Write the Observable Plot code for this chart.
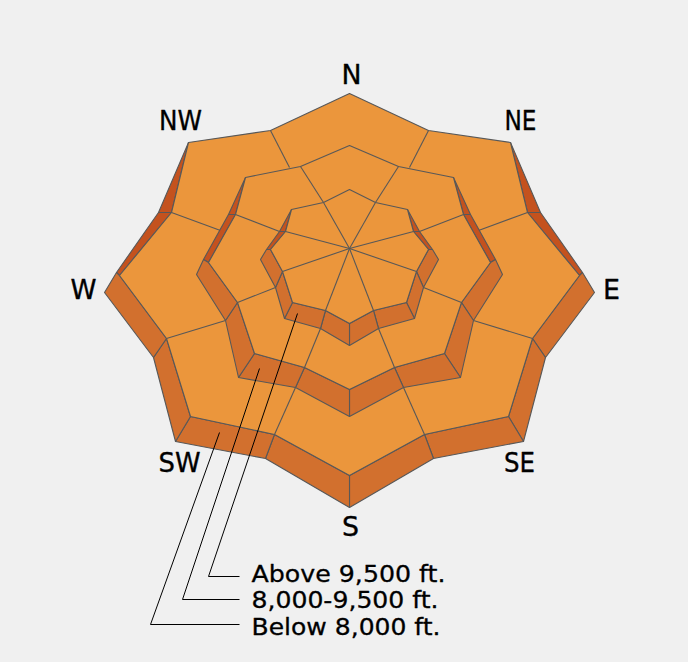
<!DOCTYPE html>
<html>
<head>
<meta charset="utf-8">
<script src="https://cdn.jsdelivr.net/npm/d3@7"></script>
<script src="https://cdn.jsdelivr.net/npm/@observablehq/plot@0.6"></script>
<style>
html,body{margin:0;padding:0;background:#f0f0f0;}
svg{display:block;}
</style>
</head>
<body>
<div id="chart"></div>
<script>
// Vertex order, clockwise from north
const bearings = ["N","NNE","NE","ENE","E","ESE","SE","SSE","S","SSW","SW","WSW","W","WNW","NW","NNW"];

// Below 8,000 ft. ring
const lowTopEast  = [0,79,161,178,230,183,159,75,0,-75,-159,-183,-230,-178,-161,-79];
const lowTopNorth = [155,118,106,36,-27,-90,-168,-186,-227,-186,-168,-90,-27,36,106,118];
const lowBaseEast  = [0,79,161,191,245,196,174,84,0,-84,-174,-196,-245,-191,-161,-79];
const lowBaseNorth = [155,118,106,36,-44,-109,-193,-210,-259,-210,-193,-109,-44,36,106,118];
const lowShoulderEast = 233, lowShoulderNorth = -24;

// 8,000-9,500 ft. ring
const midTopEast  = [0,49,104,114,141,112,95,45,0,-45,-95,-112,-141,-114,-104,-49];
const midTopNorth = [103,82,71,34,-14,-54,-105,-119,-141,-119,-105,-54,-14,34,71,82];
const midBaseEast  = [0,49,104,121,153,124,111,54,0,-54,-111,-124,-153,-121,-104,-49];
const midBaseNorth = [103,82,71,34,-26,-72,-129,-139,-168,-139,-129,-72,-26,34,71,82];
const midShoulderEast = 146, midShoulderNorth = -11;

// Above 9,500 ft. ring
const highTopEast  = [0,26,58,64,79,67,57,24,0,-24,-57,-67,-79,-64,-58,-26];
const highTopNorth = [59,46,39,17,-1,-23,-54,-62,-75,-62,-54,-23,-1,17,39,46];
const highBaseEast  = [0,26,58,70,89,74,65,29,0,-29,-65,-74,-89,-70,-58,-26];
const highBaseNorth = [59,46,39,17,-11,-39,-70,-80,-97,-80,-70,-39,-11,17,39,46];
const highShoulderEast = 83, highShoulderNorth = -1;

// Sector divider vertices and where the low-ring dividers meet the mid ring
const dividers = [1,3,5,7,9,11,13,15];
const lowDividerEndEast  = [60,129,124,54,-54,-124,-129,-60];
const lowDividerEndNorth = [81,18,-72,-139,-139,-72,18,81];

// Wall faces, by starting vertex
const shadedWalls = [2,3,12,13];
const litWalls = [4,5,6,7,8,9,10,11];

// Compass labels
const compass = ["N","NE","E","SE","S","SW","W","NW"];
const compassEast  = [2,171,262,170,1,-170,-266,-169];
const compassNorth = [173,127,-42,-215,-279,-215,-42,127];
const compassWidths = [20,32,17,31,17,42,26,43];

// Legend
const legendLabels = ["Above 9,500 ft.","8,000-9,500 ft.","Below 8,000 ft."];
const legendNorth = [-326,-352,-379];
const legendTextEast = -98;
const legendWidths = [194,187,189];
const leaderElbowEast = [-141,-167,-199];
const leaderElbowNorth = [-328,-351,-376];
const leaderTipEast = [-52,-90,-130];
const leaderTipNorth = [-65,-120,-184];
const leaderEndEast = -110;

const TOP = "#eb963c", WALL = "#d2702e", DARK = "#c4521e", EDGE = "#585858";
const EAST = 4, WEST = 12;
const all = d3.range(bearings.length);

function wallMarks(topE, topN, baseE, baseN, shE, shN) {
  const shoulder = (i) => i === EAST ? {e:shE, n:shN} : {e:-shE, n:shN};
  const isShoulder = (i) => i === EAST || i === WEST;
  const face = (list, lit) => list.flatMap(i => {
    const j = (i + 1) % bearings.length;
    const pts = [{e:topE[i], n:topN[i]}];
    if (isShoulder(i)) { pts.push(shoulder(i)); if (lit) pts.push({e:baseE[i], n:baseN[i]}); }
    else pts.push({e:baseE[i], n:baseN[i]});
    if (isShoulder(j)) { if (lit) pts.push({e:baseE[j], n:baseN[j]}); pts.push(shoulder(j)); }
    else pts.push({e:baseE[j], n:baseN[j]});
    pts.push({e:topE[j], n:topN[j]});
    return pts.map(p => ({...p, id:i}));
  });
  const opt = {x:"e", y:"n", z:"id", curve:"linear-closed", stroke:EDGE, strokeWidth:1.1};
  return [
    Plot.line(face(shadedWalls, false), {...opt, fill:DARK}),
    Plot.line(face(litWalls, true), {...opt, fill:WALL})
  ];
}
function topMark(topE, topN) {
  return Plot.line(all, {x:i=>topE[i], y:i=>topN[i], curve:"linear-closed", fill:TOP, stroke:EDGE, strokeWidth:1.1});
}
const dividerOpt = {stroke:EDGE, strokeWidth:1.1};

const plot = Plot.plot({
  width:688, height:662,
  margin:0,
  style:{background:"#f0f0f0"},
  x:{domain:[-349,339], range:[0,688], axis:null},
  y:{domain:[248,-414], range:[0,662], axis:null},
  marks:[
    ...wallMarks(lowTopEast, lowTopNorth, lowBaseEast, lowBaseNorth, lowShoulderEast, lowShoulderNorth),
    topMark(lowTopEast, lowTopNorth),
    Plot.link(dividers, {
      x1:i=>lowTopEast[i], y1:i=>lowTopNorth[i],
      x2:(i,k)=>lowDividerEndEast[k], y2:(i,k)=>lowDividerEndNorth[k], ...dividerOpt}),
    ...wallMarks(midTopEast, midTopNorth, midBaseEast, midBaseNorth, midShoulderEast, midShoulderNorth),
    topMark(midTopEast, midTopNorth),
    Plot.link(dividers, {
      x1:i=>midTopEast[i], y1:i=>midTopNorth[i],
      x2:i=>highBaseEast[i], y2:i=>highBaseNorth[i], ...dividerOpt}),
    ...wallMarks(highTopEast, highTopNorth, highBaseEast, highBaseNorth, highShoulderEast, highShoulderNorth),
    topMark(highTopEast, highTopNorth),
    Plot.link(dividers, {
      x1:i=>highTopEast[i], y1:i=>highTopNorth[i],
      x2:0, y2:0, ...dividerOpt}),
    Plot.link(legendLabels, {
      x1:(d,k)=>leaderTipEast[k], y1:(d,k)=>leaderTipNorth[k],
      x2:(d,k)=>leaderElbowEast[k], y2:(d,k)=>leaderElbowNorth[k], stroke:"#000", strokeWidth:1}),
    Plot.link(legendLabels, {
      x1:(d,k)=>leaderElbowEast[k], y1:(d,k)=>leaderElbowNorth[k],
      x2:leaderEndEast, y2:(d,k)=>leaderElbowNorth[k], stroke:"#000", strokeWidth:1}),
    Plot.text(compass, {
      className:"compass-label",
      x:(d,k)=>compassEast[k], y:(d,k)=>compassNorth[k], text:d=>d,
      fontFamily:"DejaVu Sans", fontSize:27, fill:"#000", stroke:"#000", strokeWidth:0.35}),
    Plot.text(legendLabels, {
      className:"legend-label",
      x:legendTextEast, y:(d,k)=>legendNorth[k], text:d=>d, textAnchor:"start",
      fontFamily:"DejaVu Sans", fontSize:23, fill:"#000", stroke:"#000", strokeWidth:0.3})
  ]
});
d3.select(plot).selectAll(".legend-label text")
  .attr("textLength", (d,k)=>legendWidths[k])
  .attr("lengthAdjust","spacingAndGlyphs");
d3.select(plot).selectAll(".compass-label text")
  .attr("textLength", (d,k)=>compassWidths[k])
  .attr("lengthAdjust","spacingAndGlyphs");
document.getElementById("chart").appendChild(plot);
</script>
</body>
</html>
